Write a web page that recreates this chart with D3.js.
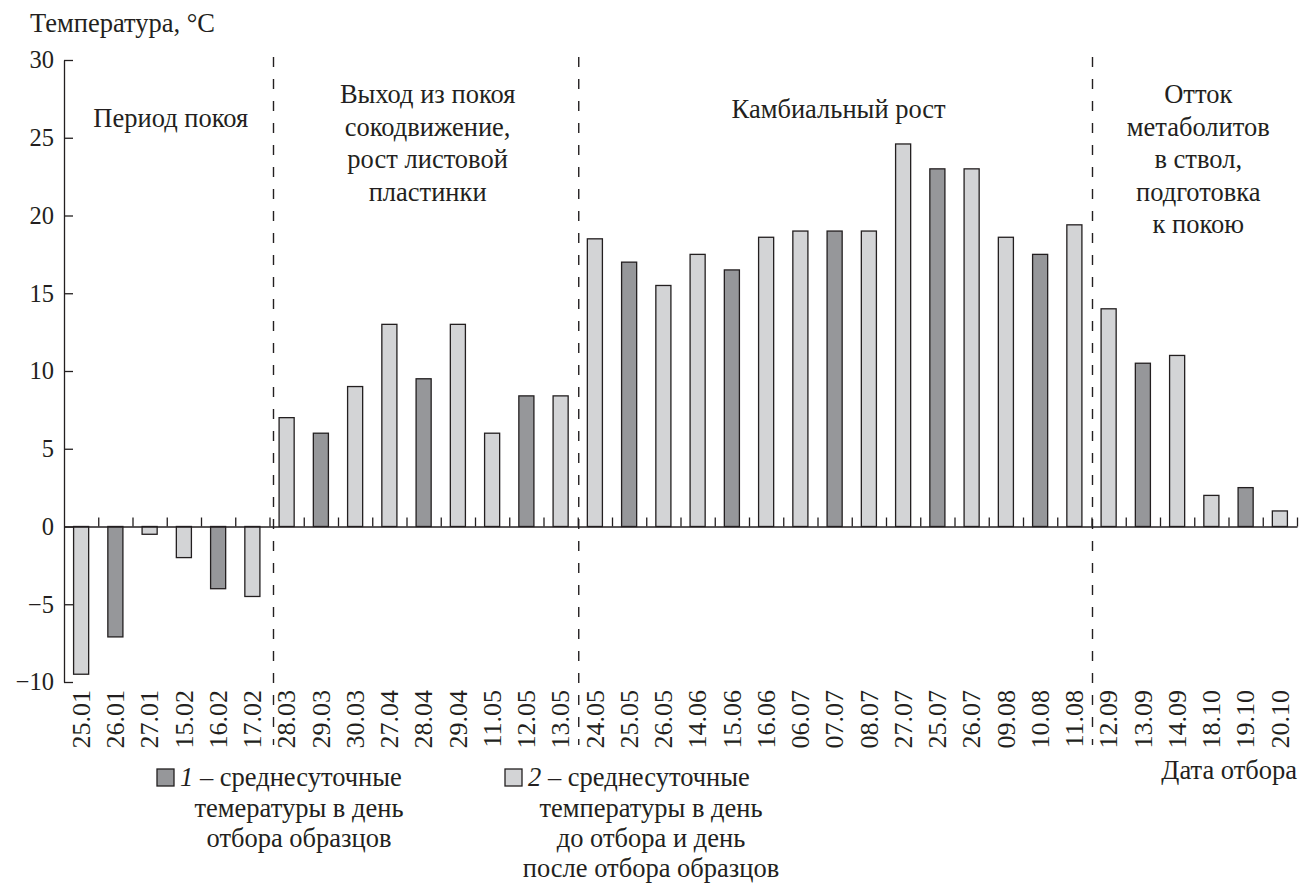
<!DOCTYPE html>
<html lang="ru">
<head>
<meta charset="utf-8">
<script src="https://cdn.jsdelivr.net/npm/d3@7"></script>
<style>
  html, body { margin: 0; padding: 0; background: #fff; }
  svg { display: block; }
  svg text { font-family: "Liberation Serif", "DejaVu Serif", serif; }
</style>
</head>
<body>
<svg id="chart" width="1300" height="885"></svg>
<script>
// Sampling dates (dd.mm)
const dates = [
  "25.01", "26.01", "27.01", "15.02", "16.02", "17.02",
  "28.03", "29.03", "30.03", "27.04", "28.04", "29.04", "11.05", "12.05", "13.05",
  "24.05", "25.05", "26.05", "14.06", "15.06", "16.06", "06.07", "07.07", "08.07",
  "27.07", "25.07", "26.07", "09.08", "10.08", "11.08",
  "12.09", "13.09", "14.09", "18.10", "19.10", "20.10"
];

// Mean daily temperature, °C
const temps = [
  -9.5, -7.1, -0.5, -2, -4, -4.5,
  7, 6, 9, 13, 9.5, 13, 6, 8.4, 8.4,
  18.5, 17, 15.5, 17.5, 16.5, 18.6, 19, 19, 19,
  24.6, 23, 23, 18.6, 17.5, 19.4,
  14, 10.5, 11, 2, 2.5, 1
];

// 1 — sampling day, 2 — day before / day after sampling
const series = [
  2, 1, 2, 2, 1, 2,
  2, 1, 2, 2, 1, 2, 2, 1, 2,
  2, 1, 2, 2, 1, 2, 2, 1, 2,
  2, 1, 2, 2, 1, 2,
  2, 1, 2, 2, 1, 2
];

// Phenological periods: first date index and caption lines
const periodStarts = [0, 6, 15, 30];
const periodLabels = [
  ["Период покоя"],
  ["Выход из покоя", "сокодвижение,", "рост листовой", "пластинки"],
  ["Камбиальный рост"],
  ["Отток", "метаболитов", "в ствол,", "подготовка", "к покою"]
];

const yTicks = [-10, -5, 0, 5, 10, 15, 20, 25, 30];

const legendItems = [
  { id: 1, lines: ["среднесуточные", "темературы в день", "отбора образцов"] },
  { id: 2, lines: ["среднесуточные", "температуры в день", "до отбора и день", "после отбора образцов"] }
];

// ---- layout ----
const fill = { 1: "#96979a", 2: "#d3d4d6" };
const ink = "#231f20";
const M = { left: 64, right: 1297, top: 60, bottom: 682 };
const textSize = 26.5;   // captions, titles, legend
const numSize = 24.5;    // tick and date labels

const svg = d3.select("#chart");

const x = d3.scaleBand()
  .domain(d3.range(dates.length))
  .range([M.left, M.right])
  .padding(0);

const y = d3.scaleLinear().domain([-10, 30]).range([M.bottom, M.top]);

const barW = x.step() * 0.44;

// Period separators (dashed)
const sepX = periodStarts.slice(1).map(i => x(i) + (i === 6 ? 4 : 1));
svg.append("g")
  .selectAll("line")
  .data(sepX)
  .join("line")
  .attr("x1", d => d).attr("x2", d => d)
  .attr("y1", M.top - 3).attr("y2", 745)
  .attr("stroke", ink)
  .attr("stroke-width", 1.4)
  .attr("stroke-dasharray", "10,12");

// Bars
svg.append("g")
  .selectAll("rect")
  .data(temps.map((v, i) => ({ v, i, s: series[i] })))
  .join("rect")
  .attr("x", d => x(d.i) + (x.bandwidth() - barW) / 2)
  .attr("width", barW)
  .attr("y", d => y(Math.max(0, d.v)))
  .attr("height", d => Math.abs(y(d.v) - y(0)))
  .attr("fill", d => fill[d.s])
  .attr("stroke", ink)
  .attr("stroke-width", 1.3);

// Y axis (ticks pointing inward)
const yAxis = svg.append("g")
  .attr("transform", `translate(${M.left},0)`)
  .call(d3.axisRight(y).tickValues(yTicks).tickSize(9).tickSizeOuter(0).tickFormat(""));
yAxis.select(".domain").attr("stroke", ink).attr("stroke-width", 1.3);
yAxis.selectAll(".tick line").attr("stroke", ink).attr("stroke-width", 1.3);

svg.append("g")
  .selectAll("text")
  .data(yTicks)
  .join("text")
  .attr("x", M.left - 10)
  .attr("y", d => y(d))
  .attr("dy", "0.34em")
  .attr("text-anchor", "end")
  .attr("font-size", numSize)
  .attr("fill", ink)
  .text(d => d < 0 ? "\u2212" + Math.abs(d) : d);

// Zero line with category ticks pointing up
const zeroAxis = svg.append("g")
  .attr("transform", `translate(0,${y(0)})`)
  .call(d3.axisTop(d3.scaleLinear().domain([0, dates.length]).range([M.left, M.right]))
    .tickValues(d3.range(1, dates.length + 1))
    .tickSize(9).tickSizeOuter(0).tickFormat(""));
zeroAxis.select(".domain").attr("stroke", ink).attr("stroke-width", 1.3);
zeroAxis.selectAll(".tick line").attr("stroke", ink).attr("stroke-width", 1.3);

// Date labels, rotated
svg.append("g")
  .selectAll("text")
  .data(dates)
  .join("text")
  .attr("transform", (d, i) => `translate(${x(i) + x.bandwidth() / 2},${M.bottom + 8}) rotate(-90)`)
  .attr("text-anchor", "end")
  .attr("dy", "0.34em")
  .attr("font-size", numSize + 1.5)
  .attr("fill", ink)
  .text(d => d);

// Axis titles
svg.append("text")
  .attr("x", 30).attr("y", 32)
  .attr("font-size", textSize)
  .attr("fill", ink)
  .text("Температура, °C");

svg.append("text")
  .attr("x", M.right).attr("y", 779)
  .attr("text-anchor", "end")
  .attr("font-size", textSize)
  .attr("fill", ink)
  .text("Дата отбора");

// Period captions
const periodTop = [118, 94, 109, 94];
const periodEnds = periodStarts.slice(1).concat([dates.length]);
periodLabels.forEach((lines, k) => {
  const x0 = x(periodStarts[k]);
  const x1 = periodEnds[k] < dates.length ? x(periodEnds[k]) : M.right;
  const cx = (x0 + x1) / 2 + 4;
  svg.append("text")
    .attr("text-anchor", "middle")
    .attr("font-size", textSize)
    .attr("fill", ink)
    .selectAll("tspan")
    .data(lines)
    .join("tspan")
    .attr("x", cx)
    .attr("y", (d, j) => periodTop[k] + j * 32.5)
    .attr("dy", "0.34em")
    .text(d => d);
});

// Legend
const legendPos = [{ sx: 157, cx: 299 }, { sx: 505, cx: 651 }];
legendItems.forEach((item, k) => {
  const p = legendPos[k];
  const g = svg.append("g");
  g.append("rect")
    .attr("x", p.sx).attr("y", 769)
    .attr("width", 17).attr("height", 17)
    .attr("fill", fill[item.id])
    .attr("stroke", ink).attr("stroke-width", 1.3);
  const first = g.append("text")
    .attr("x", p.sx + 23).attr("y", 786)
    .attr("font-size", textSize)
    .attr("fill", ink);
  first.append("tspan").attr("font-style", "italic").text(item.id);
  first.append("tspan").text(" \u2013 " + item.lines[0]);
  item.lines.slice(1).forEach((line, j) => {
    g.append("text")
      .attr("x", p.cx).attr("y", 817 + j * 30)
      .attr("text-anchor", "middle")
      .attr("font-size", textSize)
      .attr("fill", ink)
      .text(line);
  });
});
</script>
</body>
</html>
